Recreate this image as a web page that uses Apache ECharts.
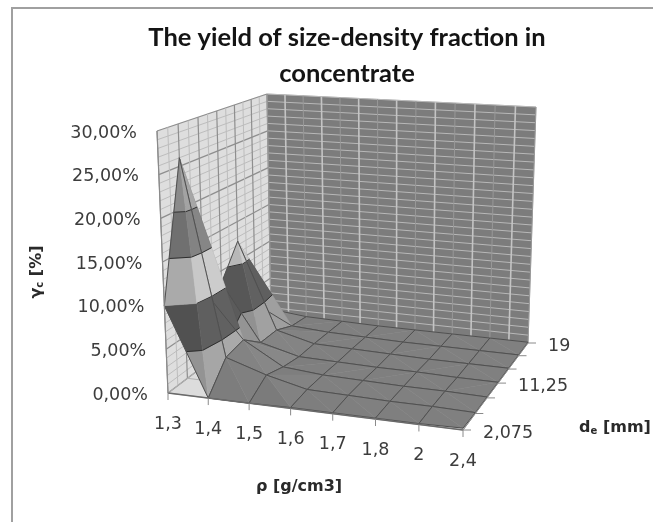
<!DOCTYPE html>
<html>
<head>
<meta charset="utf-8">
<script src="https://cdn.jsdelivr.net/npm/echarts@6/dist/echarts.min.js"></script>
<style>
  html, body { margin: 0; padding: 0; background: #fff; }
  #main { width: 653px; height: 522px; }
</style>
</head>
<body>
<div id="main"></div>
<script>
// chart values
const titleText = 'The yield of size-density fraction in\nconcentrate';
const densityLabels = ['1,3', '1,4', '1,5', '1,6', '1,7', '1,8', '2', '2,4'];
const sizeLabels = ['2,075', '', '', '11,25', '', '', '19'];
const yTicks = ['0,00%', '5,00%', '10,00%', '15,00%', '20,00%', '25,00%', '30,00%'];
// yield in %, one row per density, one column per size (front to back)
const rho13 = [10, 26, 9, 8.5, 12.5, 3, 0.8];
const rho14 = [0, 3, 3.5, 1.6, 1.6, 0.6, 0.3];
const rho15 = [0, 1.5, 0.8, 0.4, 0.4, 0.3, 0.2];
const rho16 = [0.1, 0.4, 0.4, 0.3, 0.3, 0.2, 0.1];
const rho17 = [0.1, 0.3, 0.3, 0.2, 0.2, 0.1, 0.1];
const rho18 = [0.1, 0.2, 0.2, 0.2, 0.1, 0.1, 0.1];
const rho20 = [0.1, 0.2, 0.2, 0.1, 0.1, 0.1, 0.1];
const rho24 = [0.2, 0.1, 0.1, 0.1, 0.1, 0.1, 0.1];
const yields = [rho13, rho14, rho15, rho16, rho17, rho18, rho20, rho24];
const yMax = 30;
const bandStep = 5;

// the box as the picture shows it: floor and ceiling corners
// order: front left, front right, back right, back left
const floorQuad = [[168, 393], [463, 430], [528, 343], [271, 315]];
const topQuad = [[157, 131], [471, 150], [536, 107], [267, 94]];
const bandColors = [128, 90, 190, 125, 155, 155];

function homography(q) {
  const [x0, y0] = q[0], [x1, y1] = q[1], [x2, y2] = q[2], [x3, y3] = q[3];
  const dx1 = x1 - x2, dx2 = x3 - x2, sx = x0 - x1 + x2 - x3;
  const dy1 = y1 - y2, dy2 = y3 - y2, sy = y0 - y1 + y2 - y3;
  const den = dx1 * dy2 - dx2 * dy1;
  const g = (sx * dy2 - dx2 * sy) / den;
  const h = (dx1 * sy - sx * dy1) / den;
  const a = x1 - x0 + g * x1, b = x3 - x0 + h * x3;
  const d = y1 - y0 + g * y1, e = y3 - y0 + h * y3;
  return (u, v) => {
    const w = g * u + h * v + 1;
    return [(a * u + b * v + x0) / w, (d * u + e * v + y0) / w];
  };
}
const floorAt = homography(floorQuad);
const topAt = homography(topQuad);

// u along density, v along size, w height 0..1
function project(u, v, w) {
  const f = floorAt(u, v), t = topAt(u, v);
  return [f[0] + (t[0] - f[0]) * w, f[1] + (t[1] - f[1]) * w];
}

const shapes = [];
const nU = densityLabels.length - 1;
const nV = sizeLabels.length - 1;
const gray = n => { n = Math.max(0, Math.min(255, Math.round(n))); return 'rgb(' + n + ',' + n + ',' + n + ')'; };

function poly(pts, fill) { shapes.push({ kind: 'poly', pts, fill }); }
function line(pts, stroke, lw) { shapes.push({ kind: 'line', pts, stroke, lw }); }

// walls and floor
poly([[0, 0, 0], [1, 0, 0], [1, 1, 0], [0, 1, 0]], '#dcdcdc');
poly([[0, 0, 0], [0, 1, 0], [0, 1, 1], [0, 0, 1]], '#dedede');
poly([[0, 1, 0], [1, 1, 0], [1, 1, 1], [0, 1, 1]], '#7c7c7c');
for (let k = 0; k <= yMax; k++) {
  const w = k / yMax, major = k % bandStep === 0;
  line([[0, 0, w], [0, 1, w]], major ? '#8e8e8e' : '#bdbdbd', major ? 1.2 : 1);
  line([[0, 1, w], [1, 1, w]], '#b8b8b8', 1);
}
for (let k = 0; k <= nV * 2; k++) {
  const major = k % 2 === 0;
  line([[0, k / (nV * 2), 0], [0, k / (nV * 2), 1]], major ? '#8e8e8e' : '#bdbdbd', major ? 1.2 : 1);
}
// on the back wall the stronger lines sit half way between the categories
for (let k = 0; k <= nU * 2; k++) {
  const strong = k % 2 === 1;
  line([[k / (nU * 2), 1, 0], [k / (nU * 2), 1, 1]], strong ? '#c4c4c4' : '#989898', strong ? 1.6 : 1);
}
for (let k = 0; k <= nV; k++) {
  line([[0, k / nV, 0], [1, k / nV, 0]], '#b0b0b0', 1);
}
for (let k = 0; k <= nU; k++) {
  line([[k / nU, 0, 0], [k / nU, 1, 0]], '#b0b0b0', 1);
}

// surface, back to front, split by the value bands
function clipBand(tri, lo, hi) {
  const clip = (pts, keep, level) => {
    const out = [];
    pts.forEach((p, i) => {
      const q = pts[(i + 1) % pts.length];
      const inP = keep(p[2]), inQ = keep(q[2]);
      if (inP) out.push(p);
      if (inP !== inQ) {
        const t = (level - p[2]) / (q[2] - p[2]);
        out.push([p[0] + (q[0] - p[0]) * t, p[1] + (q[1] - p[1]) * t, level]);
      }
    });
    return out;
  };
  let r = clip(tri, z => z >= lo, lo);
  if (r.length) r = clip(r, z => z <= hi, hi);
  return r;
}

function levelSegment(tri, level) {
  const out = [];
  tri.forEach((p, i) => {
    const q = tri[(i + 1) % 3];
    if ((p[2] - level) * (q[2] - level) < 0) {
      const t = (level - p[2]) / (q[2] - p[2]);
      out.push([p[0] + (q[0] - p[0]) * t, p[1] + (q[1] - p[1]) * t, level]);
    }
  });
  return out;
}

function facetNormal(tri) {
  const s = p => [p[0] * 1.0, p[1] * 0.6, p[2] / yMax * 0.9];
  const a = s(tri[0]), b = s(tri[1]), c = s(tri[2]);
  const ux = b[0] - a[0], uy = b[1] - a[1], uz = b[2] - a[2];
  const vx = c[0] - a[0], vy = c[1] - a[1], vz = c[2] - a[2];
  let nx = uy * vz - uz * vy, ny = uz * vx - ux * vz, nz = ux * vy - uy * vx;
  if (nz < 0) { nx = -nx; ny = -ny; nz = -nz; }
  const len = Math.hypot(nx, ny, nz);
  return [nx / len, ny / len, nz / len];
}

function addTriangle(tri) {
  const n = facetNormal(tri);
  // brightest when the facet looks along the density axis
  const shade = 1 + 0.08 * n[0] - 0.15 * Math.abs(n[1]);
  bandColors.forEach((c, b) => {
    const lo = b * bandStep, hi = lo + bandStep;
    const part = clipBand(tri, lo, hi);
    // the lowest band goes paler on the slopes, the flat floor stays mid gray
    const lift = b === 0 ? 40 * (1 - n[2]) : 0;
    if (part.length > 2) poly(part.map(p => [p[0], p[1], p[2] / yMax]), gray(c * shade + lift));
  });
  for (let l = bandStep; l <= 20; l += bandStep) {
    const seg = levelSegment(tri, l);
    if (seg.length === 2) line(seg.map(p => [p[0], p[1], p[2] / yMax]), '#2e2e2e', 1);
  }
}

for (let j = nV - 1; j >= 0; j--) {
  for (let i = 0; i < nU; i++) {
    const u0 = i / nU, u1 = (i + 1) / nU, v0 = j / nV, v1 = (j + 1) / nV;
    const a = [u0, v0, yields[i][j]], b = [u1, v0, yields[i + 1][j]];
    const c = [u1, v1, yields[i + 1][j + 1]], d = [u0, v1, yields[i][j + 1]];
    // split each cell along its higher diagonal
    if (d[2] + b[2] >= a[2] + c[2]) {
      addTriangle([a, b, d]);
      addTriangle([b, c, d]);
    } else {
      addTriangle([a, c, d]);
      addTriangle([a, b, c]);
    }
    const z = p => [p[0], p[1], p[2] / yMax];
    line([z(d), z(c)], '#505050', 1);
    line([z(d), z(a)], '#505050', 1);
    line([z(c), z(b)], '#505050', 1);
    line([z(a), z(b)], '#505050', 1);
  }
}

// axis lines and ticks
line([[0, 0, 0], [1, 0, 0]], '#6a6a6a', 1.5);
line([[1, 0, 0], [1, 1, 0]], '#8a8a8a', 1);
line([[0, 0, 0], [0, 0, 1]], '#8a8a8a', 1);
densityLabels.forEach((t, i) => shapes.push({ kind: 'tick', at: [i / nU, 0, 0], dx: 0, dy: 7 }));
sizeLabels.forEach((t, j) => shapes.push({ kind: 'tick', at: [1, j / nV, 0], dx: 8, dy: 0 }));

function renderShape(params, api) {
  const s = shapes[params.dataIndex];
  const toPx = p => api.coord(project(p[0], p[1], p[2]));
  if (s.kind === 'poly') {
    return { type: 'polygon', shape: { points: s.pts.map(toPx) }, style: { fill: s.fill, stroke: s.fill, lineWidth: 0.5 } };
  }
  if (s.kind === 'line') {
    return { type: 'polyline', shape: { points: s.pts.map(toPx) }, style: { fill: null, stroke: s.stroke, lineWidth: s.lw } };
  }
  const at = toPx(s.at);
  return { type: 'line', shape: { x1: at[0], y1: at[1], x2: at[0] + s.dx, y2: at[1] + s.dy }, style: { stroke: '#8a8a8a', lineWidth: 1 } };
}

// tick labels follow the same projection
const tickFont = { fontFamily: 'DejaVu Sans', fontSize: 17.5, fill: '#3c3c3c' };
function tickLabel(text, at, dx, dy, align) {
  const p = project(at[0], at[1], at[2]);
  return {
    type: 'text', x: p[0] + dx, y: p[1] + dy, z: 10,
    style: Object.assign({ text, textAlign: align, textVerticalAlign: 'middle' }, tickFont)
  };
}
const tickLabels = [];
densityLabels.forEach((t, i) => tickLabels.push(tickLabel(t, [i / nU, 0, 0], 0, 31, 'center')));
sizeLabels.forEach((t, j) => { if (t) tickLabels.push(tickLabel(t, [1, j / nV, 0], 20, 3, 'left')); });
yTicks.forEach((t, k) => tickLabels.push(tickLabel(t, [0, 0, k / (yTicks.length - 1)], -20, 2, 'right')));

const nameFont = { fontFamily: 'DejaVu Sans', fontWeight: 'bold', fontSize: 16, fill: '#2a2a2a' };
const subFont = { fontFamily: 'DejaVu Sans', fontWeight: 'bold', fontSize: 10, fill: '#2a2a2a', padding: [6, 0, 0, 0] };

const chart = echarts.init(document.getElementById('main'), null, { renderer: 'canvas' });
chart.setOption({
  animation: false,
  title: {
    text: titleText,
    left: 342, top: 15, textAlign: 'center',
    textStyle: { fontFamily: 'Lato', fontWeight: 'bold', fontSize: 25.5, lineHeight: 36, color: '#141414' }
  },
  grid: { left: 0, right: 0, top: 0, bottom: 0 },
  xAxis: { type: 'value', min: 0, max: 653, show: false },
  yAxis: { type: 'value', min: 0, max: 522, inverse: true, show: false },
  series: [{
    type: 'custom',
    silent: true,
    coordinateSystem: 'cartesian2d',
    renderItem: renderShape,
    data: shapes.map((s, i) => [i])
  }],
  graphic: tickLabels.concat([
    { type: 'rect', z: -1, shape: { x: 12, y: 8, width: 660, height: 540 }, style: { fill: null, stroke: '#a0a0a0', lineWidth: 2 } },
    {
      type: 'text', x: 37, y: 272, rotation: Math.PI / 2, z: 10,
      style: {
        text: '{a|γ}{s|c}{a| [%]}', textAlign: 'center', textVerticalAlign: 'middle',
        rich: { a: nameFont, s: subFont }
      }
    },
    {
      type: 'text', x: 299, y: 487, z: 10,
      style: Object.assign({ text: 'ρ [g/cm3]', textAlign: 'center', textVerticalAlign: 'middle' }, nameFont)
    },
    {
      type: 'text', x: 615, y: 428, z: 10,
      style: {
        text: '{a|d}{s|e}{a| [mm]}', textAlign: 'center', textVerticalAlign: 'middle',
        rich: { a: nameFont, s: subFont }
      }
    }
  ])
});
</script>
</body>
</html>
